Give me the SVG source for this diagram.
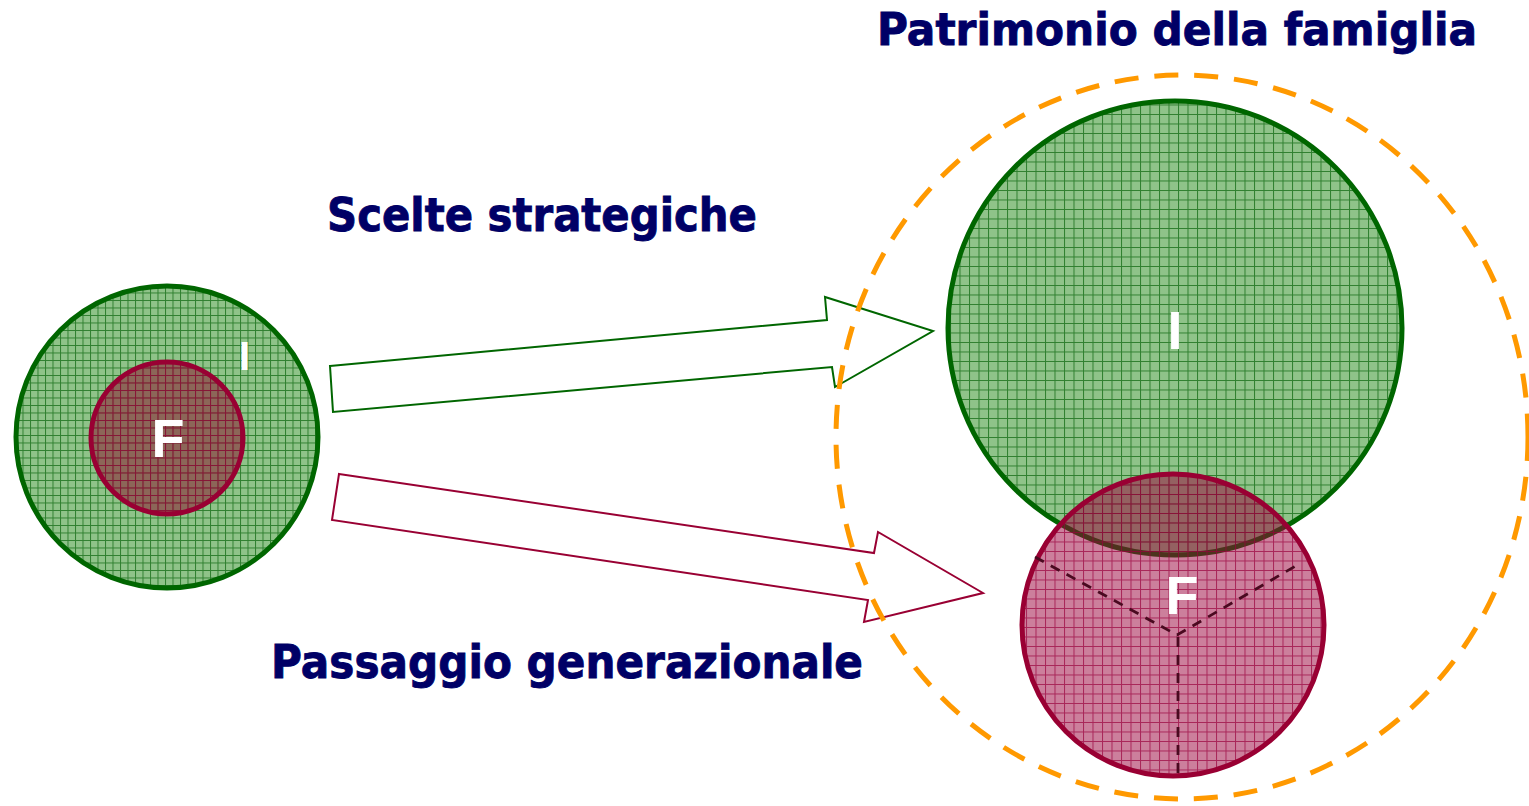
<svg xmlns="http://www.w3.org/2000/svg" width="1529" height="806" viewBox="0 0 1529 806">
  <style>
    .title { font-family: "DejaVu Sans", Verdana, sans-serif; font-weight: bold; fill: #000066; stroke: #000066; stroke-width: 0.9; }
    .lbl { font-family: "Liberation Sans", Arial, sans-serif; font-weight: bold; fill: #ffffff; text-anchor: middle; }
    .gstroke { stroke: #006600; stroke-width: 5; }
    .rstroke { stroke: #990033; stroke-width: 5; }
  </style>
  <defs>
    <pattern id="greenGrid" width="9.5" height="9.5" patternUnits="userSpaceOnUse">
      <rect width="9.5" height="9.5" fill="#8fc389"/>
      <path d="M0 0.5 H9.5 M0.5 0 V9.5" stroke="#2f7f2f" stroke-width="1" fill="none"/>
    </pattern>
    <pattern id="greenGridS" width="7.5" height="7.5" patternUnits="userSpaceOnUse">
      <rect width="7.5" height="7.5" fill="#8fc389"/>
      <path d="M0 0.5 H7.5 M0.5 0 V7.5" stroke="#2f7f2f" stroke-width="1" fill="none"/>
    </pattern>
    <pattern id="pinkGrid" width="9.5" height="9.5" patternUnits="userSpaceOnUse">
      <rect width="9.5" height="9.5" fill="#99003a" fill-opacity="0.5"/>
      <path d="M0 0.5 H9.5 M0.5 0 V9.5" stroke="#99003a" stroke-opacity="0.7" stroke-width="1" fill="none"/>
    </pattern>
    <pattern id="pinkGridS" width="7.5" height="7.5" patternUnits="userSpaceOnUse">
      <rect width="7.5" height="7.5" fill="#8a1a30" fill-opacity="0.55"/>
      <path d="M0 0.5 H7.5 M0.5 0 V7.5" stroke="#99003a" stroke-opacity="0.7" stroke-width="1" fill="none"/>
    </pattern>
  </defs>
  <rect width="1529" height="806" fill="#ffffff"/>

  <g id="left-I">
    <circle cx="167" cy="437" r="151" fill="url(#greenGridS)" class="gstroke"/>
    <text x="244.5" y="370" class="lbl" font-size="40">I</text>
  </g>
  <g id="left-F">
    <circle cx="167" cy="438" r="76" fill="url(#pinkGridS)" class="rstroke"/>
    <text x="168" y="457" class="lbl" font-size="54">F</text>
  </g>

  <g id="connectors">
    <polygon points="330,366 827,320 825,297 933,331 835,387 832,367 333,412" fill="#ffffff" stroke="#006600" stroke-width="2" stroke-linejoin="miter"/>
    <polygon points="339,474 874,553 878,532 983,593 864,622 868,600 332,520" fill="#ffffff" stroke="#990033" stroke-width="2" stroke-linejoin="miter"/>
  </g>

  <g id="right-I">
    <circle cx="1175" cy="328" r="227" fill="url(#greenGrid)" class="gstroke"/>
    <text x="1175" y="349" class="lbl" font-size="54">I</text>
  </g>
  <g id="right-F">
    <circle cx="1173" cy="625" r="151" fill="url(#pinkGrid)" class="rstroke"/>
    <path d="M1035 557 L1177 635 L1299 564 M1178 637 L1178 776" fill="none" stroke="#4a0a20" stroke-width="2.8" stroke-dasharray="10 8"/>
    <text x="1182" y="614" class="lbl" font-size="54">F</text>
  </g>

  <g id="family-wealth">
    <ellipse cx="1182" cy="437" rx="346" ry="362" fill="none" stroke="#ff9900" stroke-width="5" stroke-dasharray="24 16"/>
    <text x="877" y="45" class="title" font-size="45" textLength="600" lengthAdjust="spacingAndGlyphs">Patrimonio della famiglia</text>
  </g>

  <g id="labels">
    <text x="327" y="231" class="title" font-size="46" textLength="430" lengthAdjust="spacingAndGlyphs">Scelte strategiche</text>
    <text x="271" y="678" class="title" font-size="46" textLength="592" lengthAdjust="spacingAndGlyphs">Passaggio generazionale</text>
  </g>
</svg>
